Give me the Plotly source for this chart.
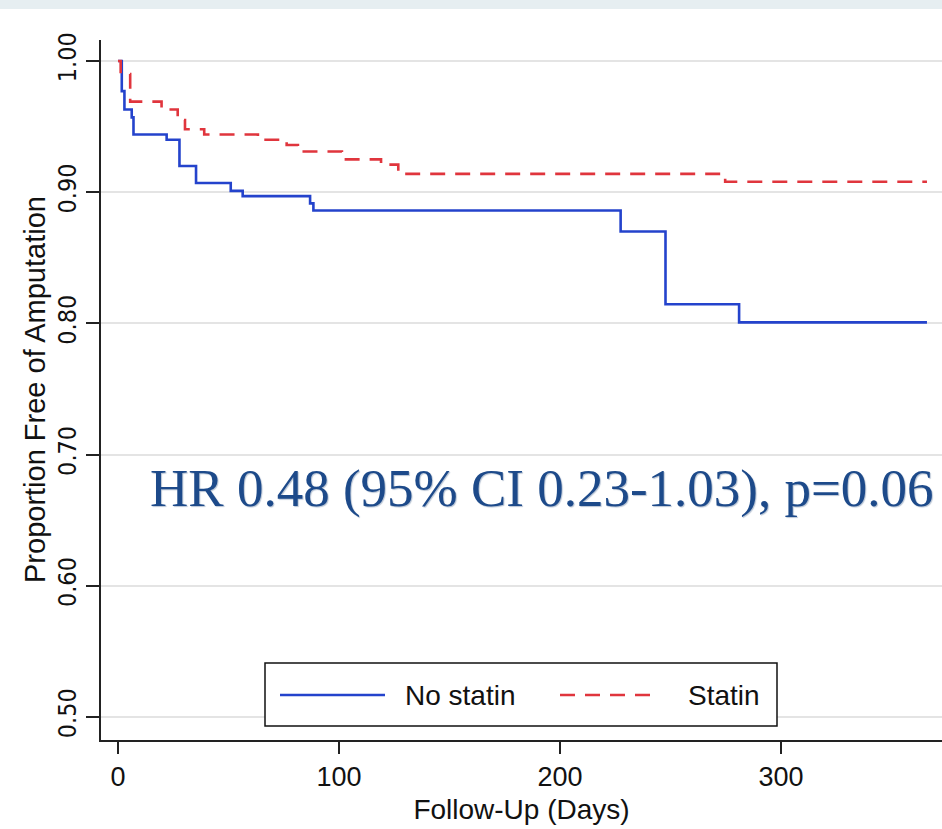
import plotly.graph_objects as go

# ---- data ----
no_statin_days = [0, 1.7, 2.9, 6.2, 7.0, 22, 27.8, 35.3, 51, 56.4, 86.9, 88.4, 227.4, 247.7, 281, 366]
no_statin_surv = [1.0, 0.977, 0.963, 0.957, 0.944, 0.940, 0.920, 0.907, 0.901, 0.897, 0.8915, 0.886, 0.870, 0.8146, 0.8008, 0.8008]

statin_days = [0, 1.2, 5.5, 19.7, 27, 30.3, 39, 63.3, 76.3, 81.4, 101.3, 119, 126.8, 274.7, 366]
statin_surv = [1.0, 0.99, 0.969, 0.963, 0.955, 0.948, 0.944, 0.940, 0.936, 0.931, 0.925, 0.921, 0.914, 0.908, 0.908]

series_names = ["No statin", "Statin"]
x_ticks = [0, 100, 200, 300]
y_ticks = [0.5, 0.6, 0.7, 0.8, 0.9, 1.0]
y_title = "Proportion Free of Amputation"
x_title = "Follow-Up (Days)"
annotation_text = "HR 0.48 (95% CI 0.23-1.03), p=0.06"

BLUE = "#2443cc"
RED = "#e0353d"
FONT = "DejaVu Sans Condensed, Liberation Sans, Arial, sans-serif"
FONT2 = "Liberation Sans, Arial, sans-serif"

fig = go.Figure()
fig.add_trace(go.Scatter(x=no_statin_days, y=no_statin_surv, mode="lines", line_shape="hv",
                         name=series_names[0], line=dict(color=BLUE, width=2.6), showlegend=False))
fig.add_trace(go.Scatter(x=statin_days, y=statin_surv, mode="lines", line_shape="hv",
                         name=series_names[1], line=dict(color=RED, width=2.6, dash="15px,10px"),
                         showlegend=False))

W, H = 942, 829
L, R, T, B = 101, 0, 40, 89
pw, ph = W - L - R, H - T - B

def px(xp):
    return (xp - L) / pw

def py(yp):
    return (H - B - yp) / ph

shapes = []
# light band at very top (slide background)
shapes.append(dict(type="rect", xref="paper", yref="paper", x0=px(0), x1=px(W), y0=py(9), y1=py(0),
                   fillcolor="#e6eef1", line=dict(width=0), layer="below"))
# legend box
shapes.append(dict(type="rect", xref="paper", yref="paper", x0=px(265), x1=px(777), y0=py(726), y1=py(663),
                   fillcolor="white", line=dict(color="#111111", width=1.5)))
shapes.append(dict(type="line", xref="paper", yref="paper", x0=px(280), x1=px(385), y0=py(695), y1=py(695),
                   line=dict(color=BLUE, width=2.6)))
shapes.append(dict(type="line", xref="paper", yref="paper", x0=px(560), x1=px(652), y0=py(695), y1=py(695),
                   line=dict(color=RED, width=2.6, dash="15px,10px")))

annotations = [
    dict(xref="paper", yref="paper", x=px(403), y=py(695), text=series_names[0], showarrow=False,
         xanchor="left", yanchor="middle", font=dict(family=FONT2, size=28, color="#111111")),
    dict(xref="paper", yref="paper", x=px(686), y=py(695), text=series_names[1], showarrow=False,
         xanchor="left", yanchor="middle", font=dict(family=FONT2, size=28, color="#111111")),
    dict(xref="paper", yref="paper", x=px(148), y=py(488), text=annotation_text, showarrow=False,
         xanchor="left", yanchor="middle",
         font=dict(family="Liberation Serif, Times New Roman, serif", size=53, color="#1d4a8a",
                   shadow="1px 1px 1px #b8c4d4")),
    dict(xref="paper", yref="paper", x=px(35), y=py(390), text=y_title, showarrow=False, textangle=-90,
         xanchor="center", yanchor="middle", font=dict(family=FONT2, size=29, color="#111111")),
]

fig.update_layout(
    width=W, height=H,
    margin=dict(l=L, r=R, t=T, b=B),
    paper_bgcolor="white", plot_bgcolor="white",
    shapes=shapes, annotations=annotations,
    font=dict(family=FONT2, color="#111111"),
)

fig.update_xaxes(
    range=[-7.7, 372.8], tickvals=x_ticks, ticktext=[str(v) for v in x_ticks],
    showline=True, linecolor="#222222", linewidth=2, showgrid=False, zeroline=False,
    ticks="outside", ticklen=12, tickwidth=1.5, tickcolor="#222222",
    tickfont=dict(family=FONT2, size=27, color="#111111"),
    title=dict(text=x_title, font=dict(family=FONT2, size=28, color="#111111"), standoff=8),
)
fig.update_yaxes(
    range=[0.4825, 1.016], tickvals=y_ticks, ticktext=["%.2f" % v for v in y_ticks], tickangle=-90,
    showline=True, linecolor="#222222", linewidth=2, showgrid=True, gridcolor="#e4e4e4", gridwidth=1.5,
    zeroline=False, ticks="outside", ticklen=13, tickwidth=1.5, tickcolor="#222222",
    ticklabelstandoff=0,
    tickfont=dict(family=FONT, size=25, color="#111111"),
)

fig.write_html("out.html")
